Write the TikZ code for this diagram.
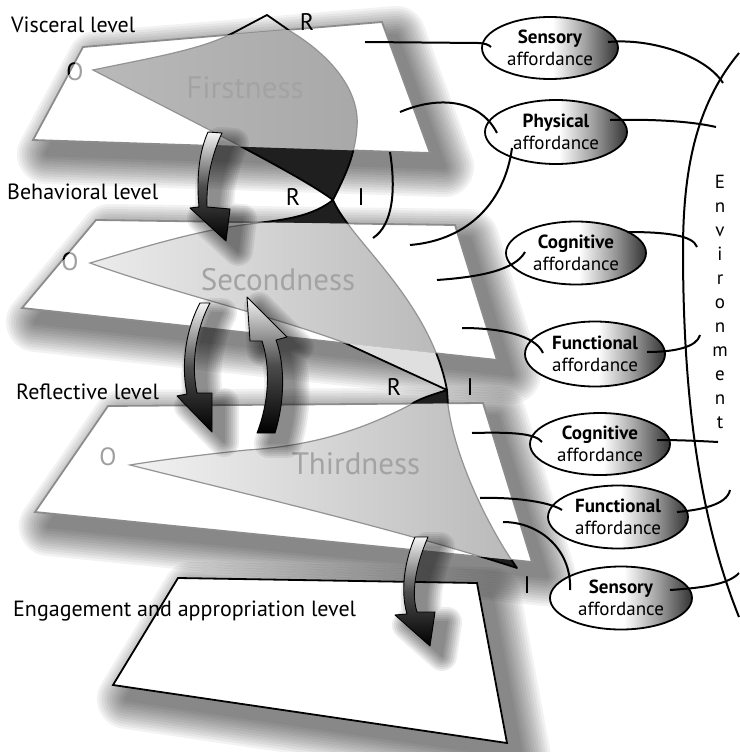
\documentclass[tikz,border=0pt]{standalone}
\usepackage{fontspec}
\setmainfont{PT Sans}
\usetikzlibrary{shapes.geometric}
\pgfdeclarehorizontalshading{ellshade}{100bp}{color(0bp)=(white); color(25bp)=(white); color(51bp)=(white); color(63bp)=(gray!75); color(75bp)=(black!80); color(100bp)=(black!80)}
\def\planeA{(83,47) -- (382,22) -- (430,153) -- (33,140) -- cycle}
\def\planeB{(96,220) -- (455,225) -- (497,360) -- (22,308) -- cycle}
\def\planeC{(108,406) -- (483,403) -- (532,562) -- (35,512) -- cycle}
\def\planeD{(178,578) -- (477,583) -- (507,743) -- (113,685) -- cycle}
\def\gapAB{(-5,138.7) -- (745,163.3) -- (745,229) -- (-5,218.6) -- cycle}
\def\gapBC{(-5,305) -- (745,387) -- (745,401) -- (-5,407) -- cycle}
\def\gapCD{(-5,508) -- (745,583.5) -- (745,760) -- (-5,760) -- cycle}
\def\whole{(-10,-10) rectangle (750,770)}
\def\signA{(93,70) .. controls (150,58) and (200,50) .. (233,33) -- (267,15) -- (290,31) .. controls (330,55) and (360,90) .. (357,127) .. controls (355,160) and (340,185) .. (333,200) .. controls (300,175) and (190,120) .. (93,70) -- cycle}
\def\signB{(333,200) .. controls (310,218) and (280,220) .. (250,224) .. controls (200,230) and (150,245) .. (90,263) .. controls (170,292) and (270,315) .. (345,343) -- (447,390) .. controls (430,300) and (350,240) .. (333,200) -- cycle}
\def\signC{(447,390) .. controls (435,394) and (420,398) .. (410,405) .. controls (380,420) and (330,445) .. (247,450) .. controls (200,455) and (160,460) .. (130,465) .. controls (250,495) and (400,530) .. (517,568) .. controls (490,530) and (455,460) .. (448,405) -- cycle}
\def\arrowA{(208,132) -- (222,133) .. controls (214,150) and (206,175) .. (207,207) -- (230,209) -- (226,241) -- (190,208) -- (199,207) .. controls (196,175) and (200,150) .. (208,132) -- cycle}
\def\arrowB{(200,303) -- (210,303) .. controls (198,325) and (190,360) .. (197,393) -- (212,393) -- (212,432) -- (177,396) -- (187,394) .. controls (180,360) and (188,325) .. (200,303) -- cycle}
\def\arrowC{(257,433) -- (275,433) .. controls (285,400) and (285,365) .. (276,340) -- (287,337) -- (247,297) -- (250,341) -- (262,341) .. controls (270,365) and (270,400) .. (257,433) -- cycle}
\def\arrowD{(415,537) -- (428,537) .. controls (418,560) and (410,590) .. (417,612) -- (435,612) -- (430,646) -- (395,615) -- (407,614) .. controls (400,590) and (405,560) .. (415,537) -- cycle}
\newcommand\softshadow[4]{\begin{scope}[shift={#1}]\foreach \w in {#2}{\begin{scope}[transparency group, opacity=#3]\path[fill=black, draw=black, line width=\w pt, line join=round] #4;\end{scope}}\end{scope}}
\tikzset{
 plane/.style={fill=white, draw=gray!90, line width=1.8pt, line join=miter},
 lvl/.style={font=\fontsize{22}{26}\selectfont, anchor=base west, inner sep=0pt},
 ri/.style={font=\fontsize{24}{28}\selectfont, inner sep=0pt},
 signtxt/.style={text=gray!72, font=\fontsize{31}{36}\selectfont, inner sep=0pt},
 olab/.style={font=\fontsize{25}{28}\selectfont, inner sep=0pt},
 aff/.style={ellipse, draw=black, line width=1.8pt, shade, shading=ellshade, inner sep=0pt, align=center, font=\fontsize{19}{22}\selectfont, minimum width=140pt, minimum height=63pt},
 conn/.style={draw=black, line width=2pt},
 arr/.style={draw=black, line width=0.9pt, line join=round, top color=gray!8, bottom color=black, middle color=black!70},
 outl/.style={draw=black, line width=1.8pt, line join=round},
 inl/.style={draw=gray!85, line width=1.2pt}
}
\begin{document}
\begin{tikzpicture}[x=1pt, y=-1pt]
\useasboundingbox (0,0) rectangle (739,752);
% shadows of the planes
\softshadow{(14,14)}{60,55,...,5}{0.05}{\planeA}
\softshadow{(14,14)}{60,55,...,5}{0.05}{\planeB}
\softshadow{(14,14)}{60,55,...,5}{0.05}{\planeC}
\softshadow{(14,14)}{60,55,...,5}{0.05}{\planeD}
% planes
\path[plane] \planeA;
\path[plane] \planeB;
\path[plane] \planeC;
\path[plane, draw=black] \planeD;
% Firstness
\begin{scope}\clip \planeA; \shade[left color=gray!55, right color=gray!68] \signA; \path[inl] \signA; \end{scope}
\begin{scope}\clip \gapAB; \fill[black!88] \signA; \end{scope}
\begin{scope}[even odd rule]\clip \whole \planeA; \path[outl] \signA; \end{scope}
% Secondness
\begin{scope}\clip \planeB; \shade[left color=gray!15, right color=gray!55] \signB; \path[inl] \signB; \end{scope}
\begin{scope}\clip \gapAB; \fill[black!88] \signB; \end{scope}
\begin{scope}\clip \gapBC; \fill[gray!25] \signB; \end{scope}
\begin{scope}[even odd rule]\clip \whole \planeB; \path[outl] \signB; \end{scope}
% Thirdness
\begin{scope}\clip \planeC; \shade[left color=gray!10, right color=gray!55] \signC; \path[inl] \signC; \end{scope}
\begin{scope}\clip \gapBC; \fill[black!88] \signC; \end{scope}
\begin{scope}\clip \gapCD; \fill[black!88] \signC; \end{scope}
\begin{scope}[even odd rule]\clip \whole \planeC; \path[outl] \signC; \end{scope}
% sign texts
\node[signtxt] (t1) at (245,88) {Firstness};
\node[signtxt] (t2) at (278,280) {Secondness};
\node[signtxt] (t3) at (356,464) {Thirdness};
% O labels
\node[olab, text=gray!75] (o1) at (75,72) {O};
\node[olab, text=gray!75] (o2) at (70,262) {O};
\node[olab, text=gray!75] (o3) at (108,457) {O};
\begin{scope}[even odd rule]\clip \whole \planeA; \node[olab] (o1b) at (75,72) {O}; \end{scope}
\begin{scope}[even odd rule]\clip \whole \planeB; \node[olab] (o2b) at (70,262) {O}; \end{scope}
% arrows
\softshadow{(12,10)}{30,26,...,2}{0.07}{\arrowA}
\softshadow{(12,10)}{30,26,...,2}{0.07}{\arrowB}
\softshadow{(12,10)}{30,26,...,2}{0.07}{\arrowC}
\softshadow{(12,10)}{30,26,...,2}{0.07}{\arrowD}
\path[arr] \arrowA;
\path[arr] \arrowB;
\path[arr] \arrowC;
\path[arr] \arrowD;
% level labels
\node[lvl] (l1) at (11,33) {Visceral level};
\node[lvl] (l2) at (7,199) {Behavioral level};
\node[lvl] (l3) at (16,399) {Reflective level};
\node[lvl] (l4) at (13,616) {Engagement and appropriation level};
% R / I
\node[ri] (r0) at (307,22) {R};
\node[ri] (r1) at (293,197) {R};
\node[ri] (i1) at (361,197) {I};
\node[ri] (r2) at (394,387) {R};
\node[ri] (i2) at (470,387) {I};
\node[ri] (i3) at (527,585) {I};
% environment
\coordinate (env1) at (739,53);
\coordinate (envm) at (683,250);
\coordinate (env2) at (739,617);
\path[conn] (env1) .. controls (700,100) and (683,160) .. (envm) .. controls (683,400) and (700,520) .. (env2);
\node[font=\fontsize{19}{24}\selectfont, align=center, inner sep=0pt] (env) at (720,302) {E\\n\\v\\i\\r\\o\\n\\m\\e\\n\\t};
% affordances
\node[aff, minimum width=136pt, minimum height=62pt] (sens1) at (550,48) {\textbf{Sensory}\\affordance};
\node[aff, minimum width=142pt, minimum height=64pt] (phys) at (556,132) {\textbf{Physical}\\affordance};
\node[aff] (cog1) at (576,253) {\textbf{Cognitive}\\affordance};
\node[aff, minimum height=65pt] (func1) at (595,354) {\textbf{Functional}\\affordance};
\node[aff, minimum height=62pt] (cog2) at (600,444) {\textbf{Cognitive}\\affordance};
\node[aff] (func2) at (618,517) {\textbf{Functional}\\affordance};
\node[aff, minimum width=142pt] (sens2) at (621,598) {\textbf{Sensory}\\affordance};
% free ends
\coordinate (a1) at (365,42);  \coordinate (b1) at (723,83);
\coordinate (a2) at (400,112); \coordinate (b2) at (716,127);
\coordinate (a2b) at (410,245);
\coordinate (br1) at (390,152); \coordinate (br2) at (373,238);
\coordinate (a3) at (437,280); \coordinate (b3) at (697,247);
\coordinate (a4) at (462,328); \coordinate (b4) at (700,335);
\coordinate (a5) at (472,433); \coordinate (b5) at (718,442);
\coordinate (a6) at (480,498); \coordinate (b6) at (730,490);
\coordinate (a7) at (503,522); \coordinate (b7) at (739,573);
% connectors
\path[conn] (a1) -- (478,43) .. controls (485,43) and (489,45) .. ([shift={(-59,-1)}]sens1.center);
\path[conn] ([shift={(58,-6)}]sens1.center) .. controls (650,38) and (705,55) .. (b1);
\path[conn] (a2) .. controls (440,95) and (480,100) .. ([shift={(-59,1)}]phys.center);
\path[conn] ([shift={(-44,16)}]phys.center) .. controls (505,200) and (470,240) .. (a2b);
\path[conn] ([shift={(54,-12)}]phys.center) .. controls (650,119) and (690,121) .. (b2);
\path[conn] (br1) .. controls (396,190) and (393,225) .. (br2);
\path[conn] (a3) .. controls (480,277) and (515,270) .. ([shift={(-51,-1)}]cog1.center);
\path[conn] ([shift={(51,-21)}]cog1.center) .. controls (665,232) and (693,235) .. (b3);
\path[conn] (a4) .. controls (500,328) and (535,335) .. ([shift={(-52,-1)}]func1.center);
\path[conn] ([shift={(52,-2)}]func1.center) .. controls (675,352) and (697,347) .. (b4);
\path[conn] (a5) .. controls (510,432) and (535,433) .. ([shift={(-58,-2)}]cog2.center);
\path[conn] ([shift={(57,-4)}]cog2.center) .. controls (680,440) and (700,441) .. (b5);
\path[conn] (a6) .. controls (515,497) and (550,502) .. ([shift={(-56,-7)}]func2.center);
\path[conn] ([shift={(59,-5)}]func2.center) .. controls (700,510) and (727,505) .. (b6);
\path[conn] (a7) .. controls (540,522) and (572,550) .. ([shift={(-51,-8)}]sens2.center);
\path[conn] ([shift={(49,-8)}]sens2.center) .. controls (700,588) and (728,585) .. (b7);
\end{tikzpicture}
\end{document}
